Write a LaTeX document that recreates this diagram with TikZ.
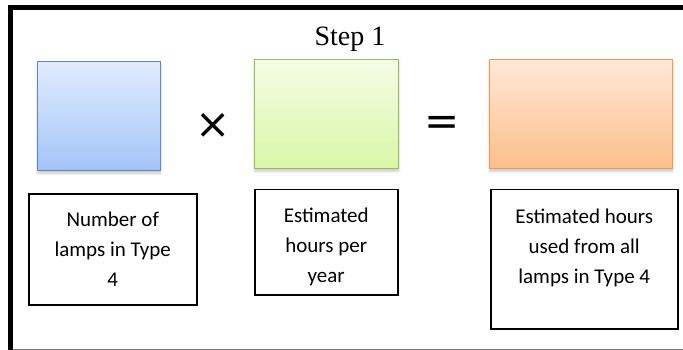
\documentclass[tikz,border=0pt]{standalone}
\usepackage{fontspec}
\setmainfont{Carlito}
\newfontfamily\stepfont{Liberation Serif}
\newfontfamily\symfont{DejaVu Sans}
\usetikzlibrary{shadows.blur}

\definecolor{blueTop}{HTML}{E1ECFD}
\definecolor{blueBot}{HTML}{A3C3F7}
\definecolor{blueEdge}{HTML}{5B85C5}
\definecolor{greenTop}{HTML}{F3FDE6}
\definecolor{greenBot}{HTML}{D8F7A5}
\definecolor{greenEdge}{HTML}{9BBB59}
\definecolor{orangeTop}{HTML}{FEE8D9}
\definecolor{orangeBot}{HTML}{FCBE8A}
\definecolor{orangeEdge}{HTML}{F79646}

\tikzset{
  colbox/.style n args={3}{draw=#3, line width=1.4pt, top color=#1, bottom color=#2,
    anchor=north west, inner sep=0pt,
    blur shadow={shadow xshift=0pt, shadow yshift=-2.5pt, shadow blur radius=2.5pt, shadow opacity=22}},
  labelbox/.style={draw=black, line width=1.5pt, anchor=north west, inner sep=0pt, fill=white},
  % anchor=base sits on the last line of a three-line label
  labeltext/.style={anchor=base, align=center, font=\fontsize{21}{30}\selectfont, inner sep=0pt},
  opsym/.style={font=\symfont\fontsize{42}{42}\selectfont, inner sep=0pt}
}

\begin{document}
\begin{tikzpicture}[x=1pt, y=-1pt]
  \useasboundingbox (0,0) rectangle (683,350);

  % frame: heavy top and left rules, thin grey bottom rule
  \draw[line width=5pt, line join=miter] (10,350) -- (10,7.5) -- (683,7.5);
  \draw[line width=1pt, gray] (12.5,349) -- (683,349);

  % heading
  \node[font=\stepfont\fontsize{28}{28}\selectfont, anchor=base, inner sep=0pt] (title) at (350,46) {Step 1};

  % coloured operand boxes
  \node[colbox={blueTop}{blueBot}{blueEdge}, minimum width=123pt, minimum height=109pt] (lamps) at (37,61) {};
  \node[colbox={greenTop}{greenBot}{greenEdge}, minimum width=144pt, minimum height=109pt] (hours) at (254,59) {};
  \node[colbox={orangeTop}{orangeBot}{orangeEdge}, minimum width=183pt, minimum height=109pt] (total) at (489,59) {};

  % operators
  \node[opsym] (times) at (213,126) {×};
  \node[opsym] (equals) at (442,126) {=};

  % description boxes
  \node[labelbox, minimum width=168pt, minimum height=111pt] (d1) at (28,193) {};
  \node[labelbox, minimum width=143pt, minimum height=105pt] (d2) at (254,189) {};
  \node[labelbox, minimum width=187pt, minimum height=139pt] (d3) at (490,189) {};

  \node[labeltext] (t1) at ([yshift=-93pt]d1.north) {Number of\\lamps in Type\\4};
  \node[labeltext] (t2) at ([yshift=-93pt]d2.north) {Estimated\\hours per\\year};
  \node[labeltext] (t3) at ([yshift=-94pt]d3.north) {Estimated hours\\used from all\\lamps in Type 4};
\end{tikzpicture}
\end{document}
